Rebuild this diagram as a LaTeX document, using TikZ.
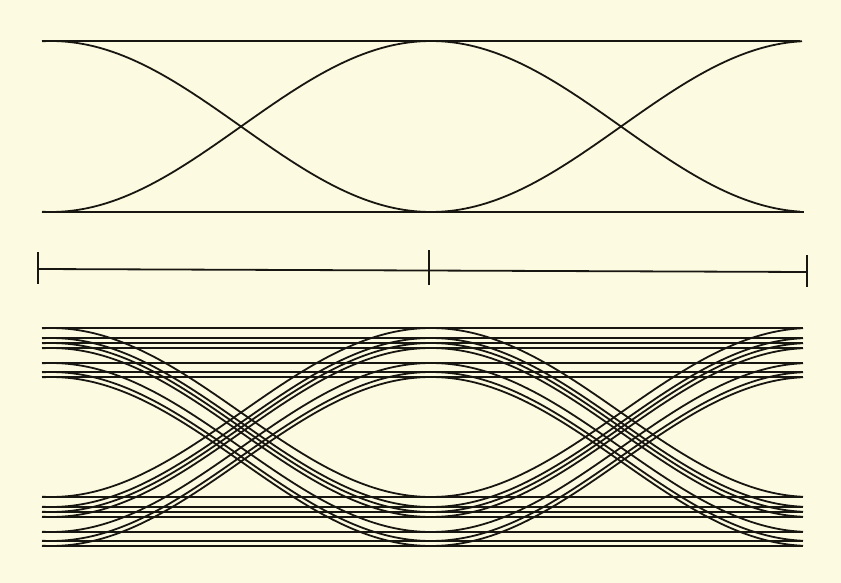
\documentclass[tikz,border=0pt]{standalone}
\definecolor{paper}{RGB}{253,250,226}
\definecolor{ink}{RGB}{24,22,16}
\begin{document}
\begin{tikzpicture}[x=1pt, y=-1pt, line width=1.8pt]

    % 0. Background sheet (fixes the margins)
    \fill[paper] (0,0) rectangle (841,583);

    % 1. Clean eye: rails at 41 and 212, cosine transitions centred at x = 431
    %    phase in degrees = (x - 431) * 180/380
    \coordinate (A) at (42, 41);
    \coordinate (B) at (800, 41);
    \coordinate (C) at (42, 212);
    \coordinate (D) at (804, 212);

    \draw[ink] (A) -- (B);
    \draw[ink] (C) -- (D);
    \draw[ink] plot[domain=42:800, samples=150] (\x, {126.5 - 85.5*cos((\x-431)*0.47368)});
    \draw[ink] plot[domain=42:802, samples=150] (\x, {126.5 + 85.5*cos((\x-431)*0.47368)});

    % 2. Scale bar with three ticks
    \coordinate (L) at (38, 269);
    \coordinate (M) at (429, 270.5);
    \coordinate (R) at (807, 272);

    \draw[ink] (L) -- (R);
    \draw[ink] (38, 252) -- (38, 284);
    \draw[ink] (429, 250) -- (429, 285);
    \draw[ink] (807, 255) -- (807, 287);

    % 3. Noisy eye: seven copies of the clean eye, each moved down by \h
    \foreach \h in {328, 338, 343, 348, 363, 372, 377} {
        \draw[ink] (42, \h) -- (803, \h);
        \draw[ink] (42, \h+169) -- (803, \h+169);
        \draw[ink] plot[domain=42:803, samples=150] (\x, {\h + 84.5 - 84.5*cos((\x-431)*0.47368)});
        \draw[ink] plot[domain=42:803, samples=150] (\x, {\h + 84.5 + 84.5*cos((\x-431)*0.47368)});
    }

\end{tikzpicture}
\end{document}
